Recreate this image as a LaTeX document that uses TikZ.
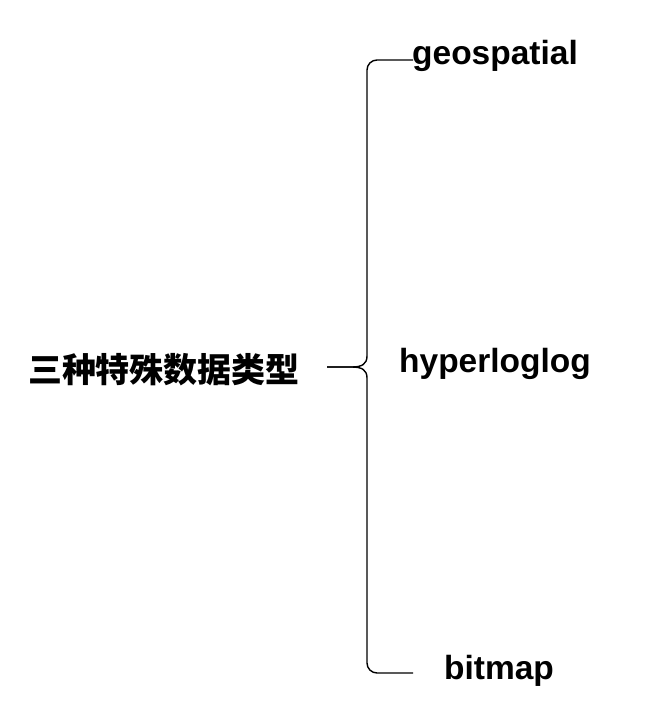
\documentclass[tikz,border=0pt]{standalone}
\usepackage{fontspec}
\setmainfont{Liberation Sans}
\newfontfamily\cjk{Noto Sans CJK SC}
\begin{document}
\begin{tikzpicture}[x=1pt,y=-1pt,line width=1.4pt]
        \tikzstyle{label}=[font=\fontsize{33.5}{38}\selectfont\bfseries,inner sep=0pt]
        \useasboundingbox (0,0) rectangle (672,716);

        \node[label,font=\fontsize{34}{38}\selectfont] (title) at (164,370) {\cjk\bfseries 三种特殊数据类型};
        \foreach \name/\txt/\x/\y in {geo/geospatial/495/56, hll/hyperloglog/495/364, bmp/bitmap/499/671}
                \node[label] (\name) at (\x,\y) {\txt};

        \coordinate (tip) at (327,367);
        \coordinate (top) at (413,60);
        \coordinate (bot) at (413,673);

        \draw[rounded corners=10pt] (top) -- (367,60) -- (367,356);
        \draw (367,356) .. controls (367,364) and (362,367) .. (352,367) -- (tip);
        \draw (tip) -- (352,367) .. controls (362,367) and (367,370) .. (367,378);
        \draw[rounded corners=10pt] (367,378) -- (367,673) -- (bot);
\end{tikzpicture}
\end{document}
